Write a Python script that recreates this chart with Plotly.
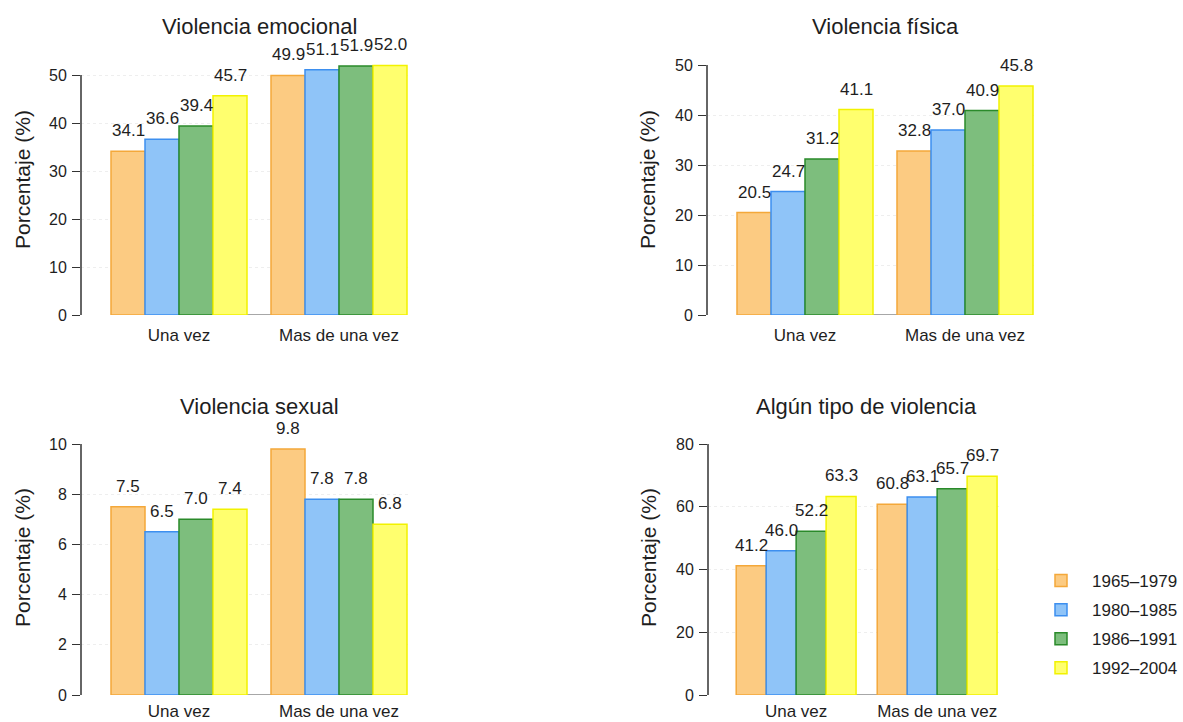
import plotly.graph_objects as go

# ---------------- data ----------------
categories = ["Una vez", "Mas de una vez"]
cohorts = ["1965–1979", "1980–1985", "1986–1991", "1992–2004"]

# values per cohort: [Una vez, Mas de una vez]
emocional = [[34.1, 49.9], [36.6, 51.1], [39.4, 51.9], [45.7, 52.0]]
fisica = [[20.5, 32.8], [24.7, 37.0], [31.2, 40.9], [41.1, 45.8]]
sexual = [[7.5, 9.8], [6.5, 7.8], [7.0, 7.8], [7.4, 6.8]]
algun = [[41.2, 60.8], [46.0, 63.1], [52.2, 65.7], [63.3, 69.7]]

titles = ["Violencia emocional", "Violencia física", "Violencia sexual", "Algún tipo de violencia"]
y_ticks = [[0, 10, 20, 30, 40, 50], [0, 10, 20, 30, 40, 50], [0, 2, 4, 6, 8, 10], [0, 20, 40, 60, 80]]
y_title = "Porcentaje (%)"

# ---------------- style ----------------
fills = ["#FCCB82", "#8FC4F8", "#7DBE7D", "#FFFF6E"]
lines = ["#F4A83A", "#3D8FEF", "#2A8A2A", "#F2F200"]
FONT = "Liberation Sans, Arial, sans-serif"
TXT = "#1e1e1e"
W, H = 1183, 722
BARGAP = 0.15

def xd(a, b):
    return [a / W, b / W]

def yd(top, bottom):
    return [1 - bottom / H, 1 - top / H]

# pixel layout for each panel: x domain, x range, y domain, y range
panels = [
    dict(xdom=xd(81, 411), xr=[-0.6125, 1.45], ydom=yd(55.8, 315), yr=[0, 54], title_y=27, ytit=(22, 180), xstand=8),
    dict(xdom=xd(707, 1037), xr=[-0.6125, 1.45], ydom=yd(65, 315), yr=[0, 50], title_y=27, ytit=(647, 180), xstand=8),
    dict(xdom=xd(81, 411), xr=[-0.6125, 1.45], ydom=yd(444, 695), yr=[0, 10], title_y=407, ytit=(22, 558), xstand=4),
    dict(xdom=xd(708, 1000.6), xr=[-0.625, 1.45], ydom=yd(444, 695), yr=[0, 80], title_y=407, ytit=(648, 558), xstand=4),
]
datasets = [emocional, fisica, sexual, algun]

fig = go.Figure()
annotations = []
shapes = []
bw = (1 - BARGAP) / len(cohorts)

for p, (cfg, data) in enumerate(zip(panels, datasets)):
    sfx = "" if p == 0 else str(p + 1)
    xa, ya = "x" + sfx, "y" + sfx
    for i, (coh, vals) in enumerate(zip(cohorts, data)):
        fig.add_trace(go.Bar(
            x=categories, y=vals, name=coh, xaxis=xa, yaxis=ya,
            marker=dict(color=fills[i], line=dict(color=lines[i], width=1.5)),
            legendgroup=coh, showlegend=(p == 0), hoverinfo="y",
        ))
        for c, v in enumerate(vals):
            annotations.append(dict(
                x=c + (i - (len(cohorts) - 1) / 2) * bw, y=v, xref=xa, yref=ya,
                text=f"{v:.1f}", showarrow=False, yanchor="bottom", yshift=9,
                font=dict(family=FONT, size=17, color=TXT),
            ))
    # title
    annotations.append(dict(
        x=0.5, xref=xa, y=1 - cfg["title_y"] / H, yref="paper", text=titles[p],
        showarrow=False, yanchor="middle", font=dict(family=FONT, size=22, color=TXT),
    ))
    # y title
    annotations.append(dict(
        x=cfg["ytit"][0] / W, y=1 - cfg["ytit"][1] / H, xref="paper", yref="paper",
        text=y_title, textangle=-90, showarrow=False, xanchor="center", yanchor="middle",
        font=dict(family=FONT, size=21, color=TXT),
    ))
    # y axis line spanning tick range
    shapes.append(dict(type="line", xref=xa + " domain", yref=ya, x0=0, x1=0,
                       y0=y_ticks[p][0], y1=y_ticks[p][-1], line=dict(color="#333333", width=1.5)))
    # baseline under bars
    shapes.append(dict(type="line", xref=xa, yref=ya, x0=-(1 - BARGAP) / 2, x1=1 + (1 - BARGAP) / 2,
                       y0=0, y1=0, line=dict(color="#8a8a8a", width=1.5), layer="below"))

    fig.layout["xaxis" + sfx] = dict(
        domain=cfg["xdom"], range=cfg["xr"], anchor=ya, showline=False, showgrid=False,
        zeroline=False, ticks="", ticklabelstandoff=cfg["xstand"], automargin=False,
        tickfont=dict(family=FONT, size=17, color=TXT),
    )
    fig.layout["yaxis" + sfx] = dict(
        domain=cfg["ydom"], range=cfg["yr"], anchor=xa, tickvals=y_ticks[p],
        ticks="outside", ticklen=8, tickcolor="#333333", tickwidth=1.3, automargin=False,
        showline=False, zeroline=False, showgrid=True, gridcolor="#eeeeee", griddash="dot",
        ticklabelstandoff=2, tickfont=dict(family=FONT, size=16, color=TXT),
    )

fig.update_layout(
    width=W, height=H, barmode="group", bargap=BARGAP, bargroupgap=0,
    margin=dict(l=0, r=0, t=0, b=0, autoexpand=False),
    paper_bgcolor="white", plot_bgcolor="white",
    annotations=annotations, shapes=shapes,
    legend=dict(x=1030 / W, y=1 - 563 / H, xanchor="left", yanchor="top",
                font=dict(family=FONT, size=17, color=TXT), tracegroupgap=4,
                itemwidth=52, bgcolor="rgba(0,0,0,0)"),
    font=dict(family=FONT, color=TXT),
)

fig.write_html("out.html", config={"displayModeBar": False},
               post_script="document.body.style.margin='0px';document.body.style.overflow='hidden';")
